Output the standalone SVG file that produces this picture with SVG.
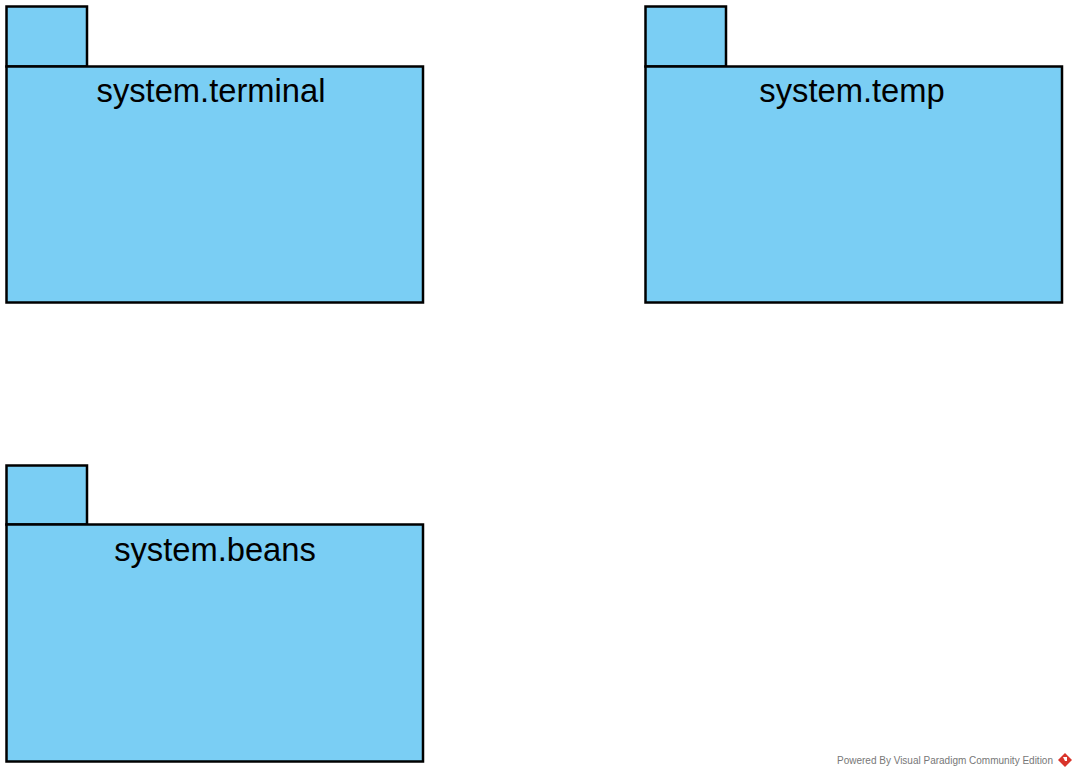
<svg xmlns="http://www.w3.org/2000/svg" width="1077" height="777" viewBox="0 0 1077 777">
<style>
.pkg{fill:#7ACEF4;stroke:#000;stroke-width:2.5}
.lbl{font-family:"Liberation Sans",Arial,sans-serif;font-size:32.7px;fill:#000;text-anchor:middle}
.wm{font-family:"Liberation Sans",Arial,sans-serif;font-size:10px;fill:#777;text-anchor:end}
</style>
<rect width="1077" height="777" fill="#fff"/>
<g id="pkg-terminal">
<rect class="pkg" x="6.5" y="6.5" width="80.5" height="60"/>
<rect class="pkg" x="6.5" y="66.5" width="416.5" height="236"/>
<text class="lbl" x="211" y="101.5">system.terminal</text>
</g>
<g id="pkg-temp">
<rect class="pkg" x="645.5" y="6.5" width="80.5" height="60"/>
<rect class="pkg" x="645.5" y="66.5" width="416.5" height="236"/>
<text class="lbl" x="852" y="101.5">system.temp</text>
</g>
<g id="pkg-beans">
<rect class="pkg" x="6.5" y="465.5" width="80.5" height="59"/>
<rect class="pkg" x="6.5" y="524.5" width="416.5" height="237"/>
<text class="lbl" x="215" y="560.5">system.beans</text>
</g>
<g id="connectors"></g>
<g id="watermark">
<text class="wm" x="1053" y="764">Powered By Visual Paradigm Community Edition</text>
<path d="M1065 753 L1072 760 L1065 767 L1058 760 Z" fill="#D9342B"/>
<path d="M1063 757 L1067 757 L1067 761 L1065 761 Z" fill="#fff"/>
</g>
</svg>
